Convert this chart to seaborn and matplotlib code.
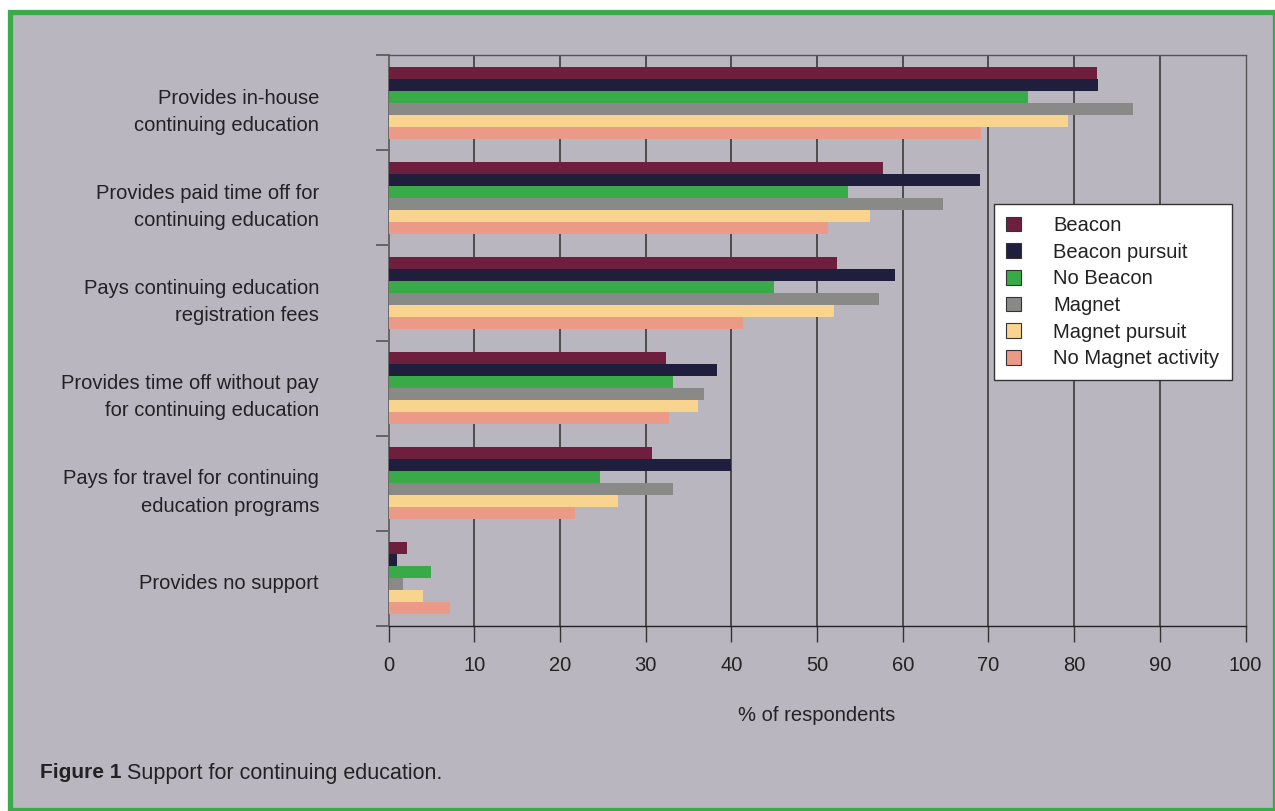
import matplotlib
matplotlib.use("Agg")
import matplotlib.pyplot as plt
from matplotlib.patches import Rectangle
from matplotlib import font_manager
import matplotlib.transforms as mtransforms
import seaborn as sns
import pandas as pd

# Support categories (top to bottom)
categories = [
    "Provides in-house\ncontinuing education",
    "Provides paid time off for\ncontinuing education",
    "Pays continuing education\nregistration fees",
    "Provides time off without pay\nfor continuing education",
    "Pays for travel for continuing\neducation programs",
    "Provides no support",
]

groups = ["Beacon", "Beacon pursuit", "No Beacon", "Magnet", "Magnet pursuit", "No Magnet activity"]

beacon = [82.7, 57.7, 52.3, 32.4, 30.7, 2.2]
beacon_pursuit = [82.8, 69.0, 59.1, 38.3, 40.0, 1.0]
no_beacon = [74.6, 53.6, 45.0, 33.2, 24.7, 5.0]
magnet = [86.9, 64.7, 57.2, 36.8, 33.2, 1.7]
magnet_pursuit = [79.3, 56.2, 52.0, 36.1, 26.8, 4.0]
no_magnet = [69.1, 51.3, 41.4, 32.7, 21.8, 7.2]

colors = ["#6e1f3d", "#1f1f3d", "#38aa48", "#898a88", "#f9d48e", "#ea9a87"]

x_ticks = [0, 10, 20, 30, 40, 50, 60, 70, 80, 90, 100]

series = [beacon, beacon_pursuit, no_beacon, magnet, magnet_pursuit, no_magnet]
rows = []
for g, vals in zip(groups, series):
    for c, v in zip(categories, vals):
        rows.append({"category": c, "group": g, "value": v})
df = pd.DataFrame(rows)

sns.set_theme(style="white")
installed = {f.name for f in font_manager.fontManager.ttflist}
family = "Liberation Sans Narrow" if "Liberation Sans Narrow" in installed else "Liberation Sans"
plt.rcParams["font.family"] = [family, "DejaVu Sans"]
FS = 15 if family == "Liberation Sans Narrow" else 14.5

BG = "#b9b6c0"
TXT = "#222222"
fig = plt.figure(figsize=(12.75, 8.11), dpi=100, facecolor="white")

# Panel background with green frame
W, H = 1275, 811
frame = Rectangle((9.5 / W, 1 - 809.5 / H), (1274.5 - 9.5) / W, (809.5 - 11.5) / H,
                  transform=fig.transFigure, facecolor=BG, edgecolor="#3aaa4a",
                  linewidth=3.8, zorder=-5)
fig.patches.append(frame)

ax = fig.add_axes([388.5 / W, 1 - 626 / H, (1245.5 - 388.5) / W, (626 - 55) / H])
ax.set_facecolor(BG)

sns.barplot(data=df, y="category", x="value", hue="group", order=categories,
            hue_order=groups, palette=colors, orient="h", width=0.756,
            saturation=1, linewidth=0, ax=ax, zorder=3)

ax.set_xlim(0, 100)
ax.set_ylim(5.5, -0.5)
ax.set_xticks(x_ticks)
ax.set_xticklabels([str(t) for t in x_ticks], fontsize=FS, color=TXT)
ax.tick_params(axis="x", length=11.5, width=1.0, color="#333333", pad=10,
               direction="out", bottom=True)

ax.set_yticks(range(len(categories)))
ax.set_yticklabels(categories, fontsize=FS, color=TXT, linespacing=1.55)
ax.tick_params(axis="y", which="major", length=0, pad=50)
ax.set_yticks([i - 0.5 for i in range(len(categories) + 1)], minor=True)
ax.tick_params(axis="y", which="minor", length=9.5, width=1.2, color="#555555", left=True)

# category labels sit slightly below the group centres
shift = mtransforms.ScaledTranslation(0, -3 / 100, fig.dpi_scale_trans)
for lbl in ax.get_yticklabels():
    lbl.set_transform(lbl.get_transform() + shift)

for t in x_ticks[1:-1]:
    ax.axvline(t, color="#444444", linewidth=1.3, zorder=1)

for s in ["top", "right"]:
    ax.spines[s].set_linestyle((0, (1, 1)))
    ax.spines[s].set_color("#555555")
    ax.spines[s].set_linewidth(1.0)
ax.spines["left"].set_color("#666666")
ax.spines["left"].set_linewidth(1.4)
ax.spines["bottom"].set_color("#222222")
ax.spines["bottom"].set_linewidth(1.0)

ax.set_ylabel("")
ax.set_xlabel("% of respondents", fontsize=FS, color=TXT, labelpad=22.5)

leg = ax.legend(loc="upper left", bbox_to_anchor=((994 - 388.5) / 857, 1 - (204 - 55) / 571),
                frameon=True, framealpha=1, fontsize=FS, handlelength=0.75,
                handleheight=0.75, handletextpad=1.6, labelspacing=0.38, borderpad=0.6,
                fancybox=False, borderaxespad=0)
leg.get_frame().set_facecolor("white")
leg.get_frame().set_edgecolor("#333333")
leg.get_frame().set_linewidth(1.0)
for h in leg.legend_handles:
    h.set_edgecolor("#333333")
    h.set_linewidth(0.8)
for txt in leg.get_texts():
    txt.set_color(TXT)

fig.text(40 / W, 1 - 773 / H, "Figure 1", fontsize=FS + 0.5, fontweight="bold",
         color=TXT, va="center", ha="left")
fig.text(127 / W, 1 - 773 / H, "Support for continuing education.", fontsize=FS + 1,
         color=TXT, va="center", ha="left")

fig.savefig("out.png", dpi=100, facecolor="white")
